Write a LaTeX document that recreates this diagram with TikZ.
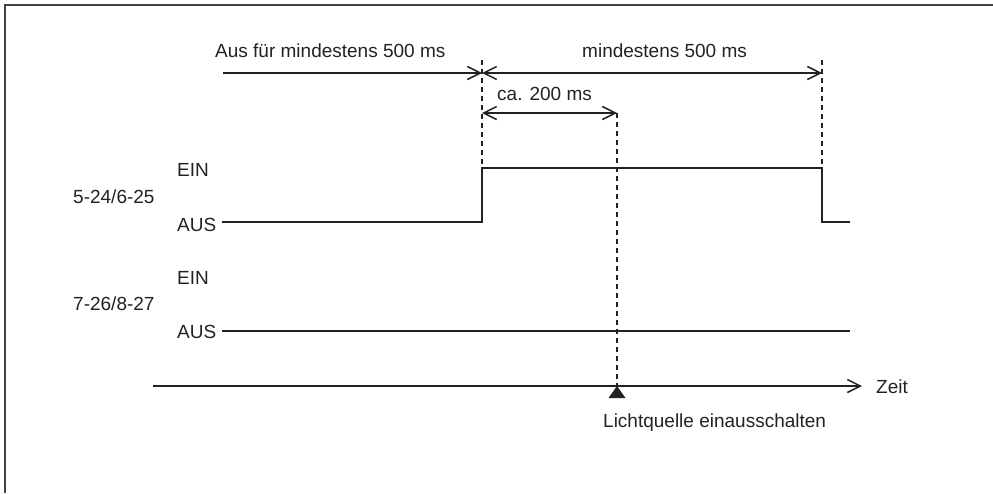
\documentclass[tikz,border=0pt]{standalone}
\usepackage{fontspec}
\setmainfont{Liberation Sans}
\usetikzlibrary{arrows.meta}
\definecolor{ink}{HTML}{222222}
\tikzset{
  lbl/.style={inner sep=0pt, anchor=base west, text=ink, font=\fontsize{19}{22}\selectfont},
  sig/.style={draw=ink, line width=1.6pt},
  dim/.style={draw=ink, line width=1.6pt},
  guide/.style={draw=ink, line width=1.3pt, dash pattern=on 5pt off 4pt},
  frame/.style={draw=ink!85, line width=2pt}
}
\begin{document}
\begin{tikzpicture}[x=1pt,y=-1pt,>={Straight Barb[length=13pt,width=13pt,line width=1.5pt]}]
\useasboundingbox (0,0) rectangle (993,493);
% frame
\coordinate (f1) at (5,493);
\coordinate (f2) at (5,5);
\coordinate (f3) at (993,5);
\draw[frame] (f1) -- (f2) -- (f3);

% top dimension texts
\node[lbl] (t1) at (215,57) {Aus für mindestens 500 ms};
\node[lbl] (t2) at (582,57) {mindestens 500 ms};
\node[lbl] (t3) at (497,100) {ca. 200 ms};

% key coordinates
\coordinate (a0) at (223,73);
\coordinate (a1) at (482,73);
\coordinate (a2) at (822,73);
\coordinate (b1) at (482,113);
\coordinate (b2) at (617,113);
\coordinate (g1t) at (482,60);
\coordinate (g2t) at (822,60);

% signal 1
\coordinate (s0) at (222,222);
\coordinate (s1) at (482,222);
\coordinate (s2) at (482,168);
\coordinate (s3) at (822,168);
\coordinate (s4) at (822,222);
\coordinate (s5) at (850,222);

% signal 2
\coordinate (r0) at (222,331);
\coordinate (r1) at (850,331);

% time axis
\coordinate (z0) at (153,386);
\coordinate (z1) at (862,386);
\coordinate (m) at (617,386);

% guides
\draw[guide] (g1t) -- (s2);
\draw[guide] (g2t) -- (s3);
\draw[guide] (b2) -- (m);

% dimension arrows
\draw[dim, ->] (a0) -- (a1);
\draw[dim, <->] (a1) -- (a2);
\draw[dim, <->] (b1) -- (b2);

% signal labels
\node[lbl] (e1) at (177,176) {EIN};
\node[lbl] (n1) at (73,203) {5-24/6-25};
\node[lbl] (u1) at (177,231) {AUS};
\node[lbl] (e2) at (177,284) {EIN};
\node[lbl] (n2) at (73,310) {7-26/8-27};
\node[lbl] (u2) at (177,338) {AUS};

\draw[sig] (s0) -- (s1) -- (s2) -- (s3) -- (s4) -- (s5);
\draw[sig] (r0) -- (r1);

% time axis
\draw[dim, ->] (z0) -- (z1);
\node[lbl] (zt) at (876,393) {Zeit};
\fill[ink] (m) -- ++(8.5,12) -- ++(-17,0) -- cycle;
\node[lbl] (lq) at (603,427) {Lichtquelle einausschalten};
\end{tikzpicture}
\end{document}
